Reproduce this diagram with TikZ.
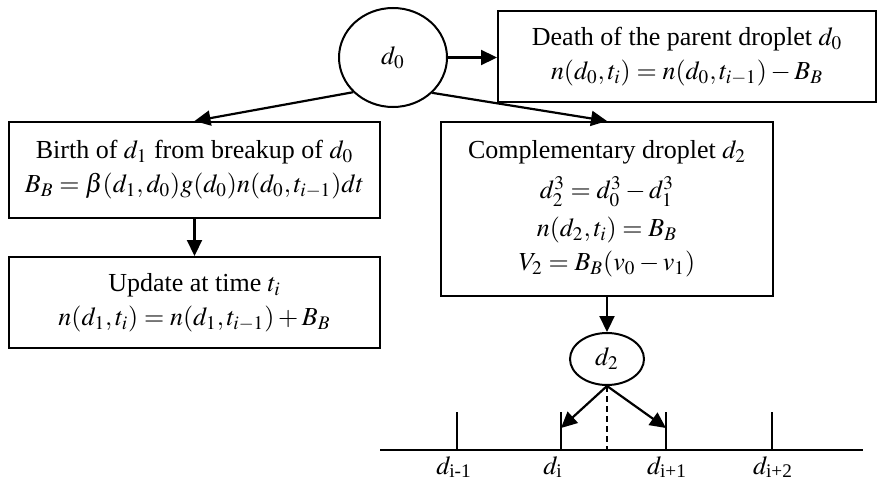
\documentclass[tikz,border=0pt]{standalone}
\usepackage{amsmath}
\usepackage{mathptmx}
\usepackage{fontspec}
\setmainfont{Liberation Serif}
\usepackage{tikz}
\usetikzlibrary{arrows.meta,positioning,calc,shapes.geometric}
\tikzset{
  block/.style={draw=black, fill=white, line width=1pt, align=center,
                inner sep=3pt, font=\fontsize{13}{17}\selectfont},
  drop/.style={draw=black, ellipse, line width=1pt, inner sep=0pt,
               font=\fontsize{13}{15}\selectfont},
  arrow/.style={-{Triangle[length=8pt,width=7.5pt]}, line width=1.1pt, draw=black},
  tick/.style={line width=1pt, draw=black},
  binlabel/.style={font=\fontsize{13}{15}\selectfont, inner sep=1pt}
}
\begin{document}
\begin{tikzpicture}[x=0.5pt,y=-0.5pt,>=Latex]
        \useasboundingbox (0,0) rectangle (877,481);
        % parent droplet and its three outcomes
        \node[drop,minimum width=54pt,minimum height=49.5pt] (d0) at (393,57.5) {$d_0$};
        \node[block,minimum width=189pt,minimum height=45.5pt] (death) at (687,56.5)
          {Death of the parent droplet $d_0$\\ $n(d_0,t_i)=n(d_0,t_{i-1})-B_B$};
        \node[block,minimum width=185.5pt,minimum height=48pt] (birth) at (194.5,170)
          {Birth of $d_1$ from breakup of $d_0$\\ $B_B=\beta(d_1,d_0)g(d_0)n(d_0,t_{i-1})dt$};
        \node[block,minimum width=185.5pt,minimum height=45.5pt] (update) at (194.5,302.5)
          {Update at time $t_i$\\ $n(d_1,t_i)=n(d_1,t_{i-1})+B_B$};
        \node[block,minimum width=166pt,minimum height=87pt] (comp) at (607,209)
          {Complementary droplet $d_2$\\[3pt] $d_2^3=d_0^3-d_1^3$\\[2pt] $n(d_2,t_i)=B_B$\\ $V_2=B_B(v_0-v_1)$};

        \draw[arrow] (d0.east) -- (death.west |- d0.east);
        \draw[arrow] (d0.221) -- (birth.north);
        \draw[arrow] (d0.318) -- (comp.north);
        \draw[arrow] (birth.south) -- (update.north);

        % complementary droplet put on the grid
        \node[drop,minimum width=37pt,minimum height=26pt] (d2) at (607,359) {$d_2$};
        \draw[arrow] (comp.south) -- (d2.north);

        \coordinate (axisL) at (380,450);
        \coordinate (axisR) at (863,450);
        \draw[tick] (axisL) -- (axisR);
        \coordinate (t1) at (457,450);
        \coordinate (t2) at (561,450);
        \coordinate (t3) at (666,450);
        \coordinate (t4) at (772,450);
        \foreach \t in {t1,t2,t3,t4}
          \draw[tick] (\t) -- ++(0,-38);
        \node[binlabel] (l1) at (454,467) {$d_{\text{i-1}}$};
        \node[binlabel] (l2) at (553,467) {$d_{\text{i}}$};
        \node[binlabel] (l3) at (667,467) {$d_{\text{i+1}}$};
        \node[binlabel] (l4) at (773,467) {$d_{\text{i+2}}$};

        \draw[line width=0.8pt,dash pattern=on 3pt off 2pt] (d2.south) -- (d2.south |- axisL);
        \draw[arrow] (d2.south) -- ($(t2)+(0,-22)$);
        \draw[arrow] (d2.south) -- ($(t3)+(0,-22)$);
      \end{tikzpicture}
\end{document}
